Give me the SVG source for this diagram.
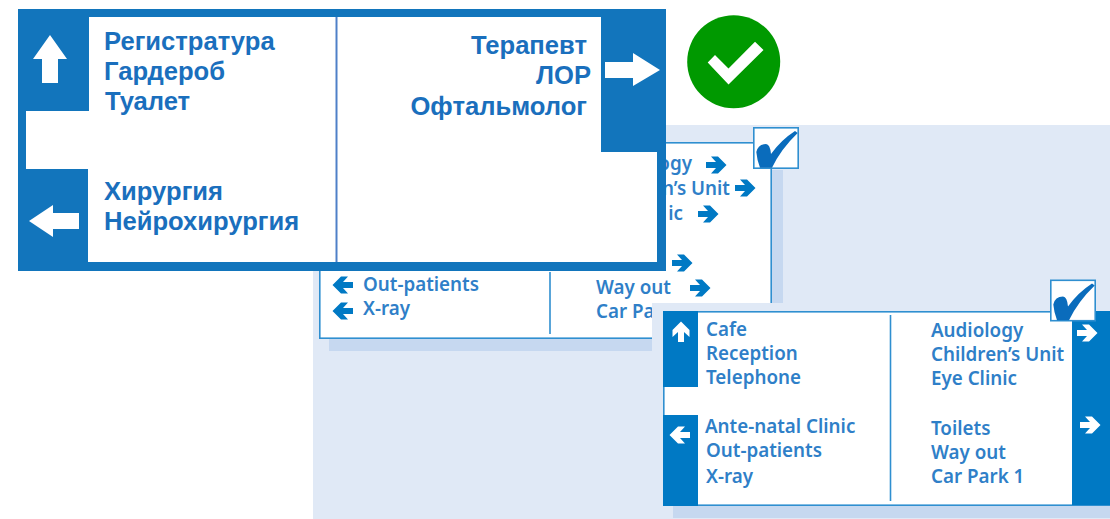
<svg xmlns="http://www.w3.org/2000/svg" xmlns:xlink="http://www.w3.org/1999/xlink" width="1110" height="519" viewBox="0 0 1110 519">
<style>
.ru{font:bold 25.6px "Liberation Sans",Arial,sans-serif;fill:#1a6fbd}
.en{font:600 18.8px "Noto Sans","Open Sans",sans-serif;fill:#2f7fc8}
.bar{fill:#0079c4}
.big{fill:#1275bc}
.line{stroke:#2f8fd0;stroke-width:1.6;fill:none}
.shadow{fill:#c6d8f0}
.pale{fill:#e0e9f6}
.ab{fill:#0079c4}
.aw{fill:#fff}
</style>
<defs>
<path id="chev" d="M-10,-3H0L-5,-8.5H2L10.5,0L2,8.5H-5L0,3H-10Z"/>
<g id="tick"><rect x="0.8" y="0.8" width="44.4" height="40.4" fill="#fff" stroke="#2f8fd0" stroke-width="1.6"/>
<path fill="#0a6cbc" d="M3.3,25Q5,17 13,17Q17,17 18,27Q28,13 42,4L44.7,6Q28,22 19,40.7H7Q4,33 3.3,25Z"/></g>
</defs>
<rect id="backdrop" class="pale" x="313" y="125" width="797" height="394"/>
<g id="sign-middle">
<rect class="shadow" x="329" y="170" width="454" height="181"/>
<rect x="319.8" y="142.8" width="451.4" height="195.4" fill="#fff" stroke="#2f8fd0" stroke-width="1.6"/>
<path class="line" d="M550,272V334"/>
<use href="#chev" class="ab" transform="translate(716,165)"/>
<use href="#chev" class="ab" transform="translate(745,188)"/>
<use href="#chev" class="ab" transform="translate(708,214)"/>
<use href="#chev" class="ab" transform="translate(682,263)"/>
<use href="#chev" class="ab" transform="translate(700,288)"/>
<use href="#chev" class="ab" transform="translate(343,285) scale(-1,1)"/>
<use href="#chev" class="ab" transform="translate(343,311) scale(-1,1)"/>
<text class="en" x="692" y="170" text-anchor="end">ogy</text>
<text class="en" x="730" y="195" text-anchor="end">n’s Unit</text>
<text class="en" x="683" y="220" text-anchor="end">ic</text>
<text class="en" x="363" y="291">Out-patients</text>
<text class="en" x="363" y="315">X-ray</text>
<text class="en" x="596" y="294">Way out</text>
<text class="en" x="596" y="318">Car Pa</text>
<use href="#tick" transform="translate(753,127)"/>
</g>
<g id="sign-front">
<rect class="pale" x="652" y="303" width="458" height="216"/>
<rect class="shadow" x="673" y="506" width="437" height="12"/>
<rect x="663.8" y="311.8" width="446" height="193.4" fill="#fff" stroke="#2f8fd0" stroke-width="1.6"/>
<rect class="bar" x="663" y="311" width="35" height="76"/>
<rect class="bar" x="663" y="415" width="35" height="91"/>
<rect class="bar" x="1072" y="311" width="38" height="194"/>
<path class="line" d="M890.5,315V501"/>
<use href="#chev" class="aw" transform="translate(681,332) rotate(-90)"/>
<use href="#chev" class="aw" transform="translate(680,435) scale(-1,1)"/>
<use href="#chev" class="aw" transform="translate(1087,333)"/>
<use href="#chev" class="aw" transform="translate(1090,425)"/>
<text class="en" x="706" y="336">Cafe</text>
<text class="en" x="706" y="360">Reception</text>
<text class="en" x="706" y="384">Telephone</text>
<text class="en" x="705" y="433">Ante-natal Clinic</text>
<text class="en" x="706" y="457">Out-patients</text>
<text class="en" x="706" y="483">X-ray</text>
<text class="en" x="931" y="337">Audiology</text>
<text class="en" x="931" y="361">Children’s Unit</text>
<text class="en" x="931" y="385">Eye Clinic</text>
<text class="en" x="931" y="435">Toilets</text>
<text class="en" x="931" y="459">Way out</text>
<text class="en" x="931" y="483">Car Park 1</text>
<use href="#tick" transform="translate(1050,279.5)"/>
</g>
<g id="sign-large">
<rect class="big" x="18" y="9" width="648" height="262"/>
<path fill="#fff" d="M89,17H601V152H657V262H88V169H26V111H89Z"/>
<path d="M336.5,17V262" stroke="#4f80c8" stroke-width="2" fill="none"/>
<path class="aw" d="M50,35L67,59H58V83H42V59H33Z"/>
<path class="aw" d="M29,221L53,205V213H79V229H53V237Z"/>
<path class="aw" d="M660,70L633,53V62H605V78H633V86Z"/>
<text class="ru" x="104" y="50">Регистратура</text>
<text class="ru" x="104" y="80">Гардероб</text>
<text class="ru" x="105" y="110">Туалет</text>
<text class="ru" x="104" y="200">Хирургия</text>
<text class="ru" x="104" y="230">Нейрохирургия</text>
<text class="ru" x="587" y="54" text-anchor="end">Терапевт</text>
<text class="ru" x="591" y="84" text-anchor="end">ЛОР</text>
<text class="ru" x="587" y="115" text-anchor="end">Офтальмолог</text>
</g>
<g id="ok-badge">
<circle cx="733.7" cy="61.7" r="46.5" fill="#009900"/>
<path class="aw" d="M707.7,62.5L728.5,84.5L763.5,50L755,41.7L728.5,68.5L715,55Z"/>
</g>
</svg>
